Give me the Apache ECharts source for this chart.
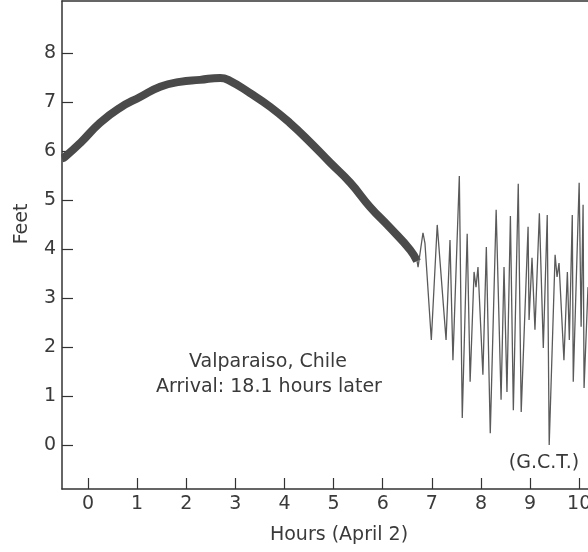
<!DOCTYPE html>
<html>
<head>
<meta charset="utf-8">
<style>
    html, body { margin: 0; padding: 0; background: #fff; }
    #main { width: 588px; height: 552px; }
</style>
</head>
<body>
<div id="main"></div>
<script src="https://cdn.jsdelivr.net/npm/echarts@6/dist/echarts.min.js"></script>
<script>
    // 潮位: 慢速变化部分 (hours, feet)
    var tideHours = [-0.53, -0.47, -0.16, 0.24, 0.65, 1.06, 1.47, 1.87, 2.28, 2.69, 2.89, 3.30, 3.71, 4.11, 4.52, 4.93, 5.34, 5.74, 6.15, 6.56, 6.70];
    var tideFeet = [5.85, 5.88, 6.16, 6.57, 6.88, 7.10, 7.31, 7.41, 7.45, 7.49, 7.43, 7.18, 6.90, 6.57, 6.18, 5.76, 5.35, 4.86, 4.43, 3.98, 3.75];

    // 海啸到达后的振荡
    var waveHours = [6.70, 6.72, 6.82, 6.86, 6.99, 7.11, 7.29, 7.37, 7.43, 7.56, 7.62, 7.72, 7.78, 7.86, 7.90, 7.94,
        8.04, 8.11, 8.19, 8.31, 8.41, 8.47, 8.53, 8.60, 8.66, 8.76, 8.82, 8.96, 8.98, 9.04, 9.10, 9.19, 9.27,
        9.35, 9.39, 9.51, 9.55, 9.59, 9.69, 9.76, 9.80, 9.86, 9.88, 10.00, 10.04, 10.08, 10.10, 10.18];
    var waveFeet = [3.75, 3.63, 4.33, 4.12, 2.14, 4.49, 2.14, 4.18, 1.73, 5.49, 0.55, 4.31, 1.29, 3.53, 3.22, 3.63,
        1.43, 4.04, 0.24, 4.80, 0.92, 3.63, 1.08, 4.67, 0.71, 5.33, 0.67, 4.45, 2.55, 3.82, 2.35, 4.73, 1.98,
        4.69, 0.00, 3.88, 3.43, 3.71, 1.73, 3.53, 2.14, 4.69, 1.29, 5.35, 2.41, 4.90, 1.16, 3.22];

    var hourTicks = [0, 1, 2, 3, 4, 5, 6, 7, 8, 9, 10];
    var feetTicks = [0, 1, 2, 3, 4, 5, 6, 7, 8];

    function pairs(xs, ys) {
        var out = [];
        for (var i = 0; i < xs.length; i++) {
            out.push([xs[i], ys[i]]);
        }
        return out;
    }

    var font = '"DejaVu Sans", "Liberation Sans", Arial, sans-serif';
    var fontSize = 19;
    var textColor = '#3a3a3a';
    var lineColor = '#333';

    function label(text, x, y, rotate) {
        return {
            type: 'text',
            x: x,
            y: y,
            rotation: rotate || 0,
            style: {
                text: text,
                fontSize: fontSize,
                fontFamily: font,
                fill: textColor,
                align: 'center',
                verticalAlign: 'middle'
            }
        };
    }

    var myChart = echarts.init(document.getElementById('main'));

    var option = {
        animation: false,
        backgroundColor: '#fff',
        grid: {
            left: 62,
            top: 1,
            right: 0,
            bottom: 63,
            outerBoundsMode: 'none'
        },
        xAxis: [{
            type: 'value',
            min: -0.53,
            max: 10.18,
            axisLine: { show: true, onZero: false, lineStyle: { color: lineColor, width: 1.5 } },
            axisTick: {
                show: true,
                inside: true,
                length: 11,
                customValues: hourTicks,
                lineStyle: { color: lineColor, width: 1.2 }
            },
            axisLabel: {
                customValues: hourTicks,
                margin: 6,
                fontSize: fontSize,
                fontFamily: font,
                color: textColor
            },
            splitLine: { show: false }
        }, {
            type: 'value',
            position: 'top',
            min: -0.53,
            max: 10.18,
            axisLine: { show: true, onZero: false, lineStyle: { color: lineColor, width: 1.5 } },
            axisTick: { show: false },
            axisLabel: { show: false },
            splitLine: { show: false }
        }],
        yAxis: {
            type: 'value',
            min: -0.9,
            max: 9.06,
            axisLine: { show: true, onZero: false, lineStyle: { color: lineColor, width: 1.5 } },
            axisTick: {
                show: true,
                inside: true,
                length: 11,
                customValues: feetTicks,
                lineStyle: { color: lineColor, width: 1.2 }
            },
            axisLabel: {
                customValues: feetTicks,
                margin: 6,
                fontSize: fontSize,
                fontFamily: font,
                color: textColor
            },
            splitLine: { show: false }
        },
        series: [{
            name: 'tide',
            type: 'line',
            data: pairs(tideHours, tideFeet),
            smooth: true,
            symbol: 'none',
            lineStyle: { color: '#4a4a4a', width: 8 }
        }, {
            name: 'wave',
            type: 'line',
            data: pairs(waveHours, waveFeet),
            symbol: 'none',
            lineStyle: { color: '#5a5a5a', width: 1.3 }
        }],
        graphic: [
            label('Feet', 22, 224, Math.PI / 2),
            label('Hours (April 2)', 339, 535),
            label('Valparaiso, Chile', 268, 362),
            label('Arrival: 18.1 hours later', 269, 387),
            label('(G.C.T.)', 544, 463)
        ]
    };

    myChart.setOption(option);
</script>
</body>
</html>
